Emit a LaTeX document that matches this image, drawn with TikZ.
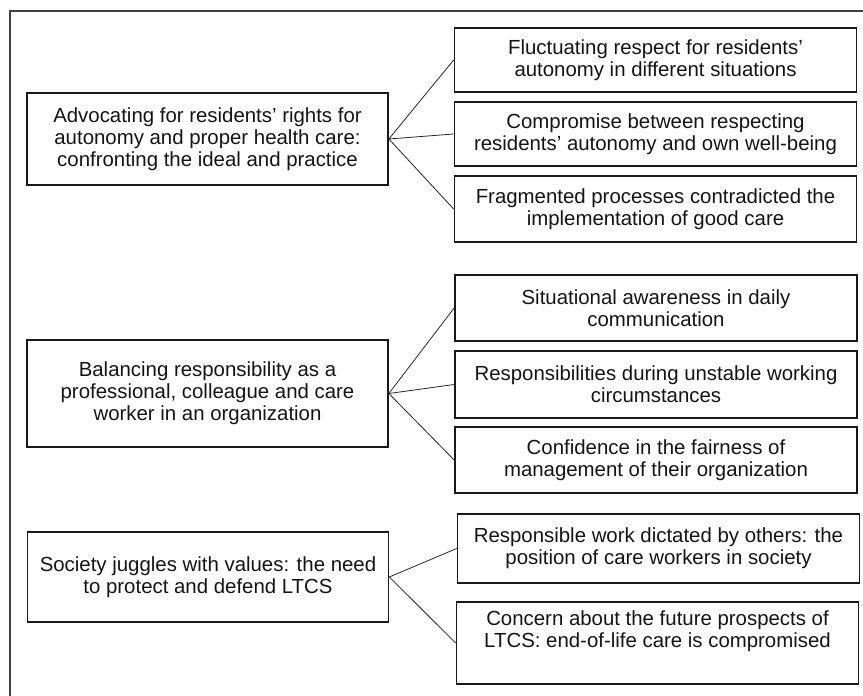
\documentclass[tikz,border=0pt]{standalone}
\usepackage{fontspec}
\setmainfont{Liberation Sans}
\begin{document}
\begin{tikzpicture}[x=1pt,y=-1pt,
  box/.style={draw=black!90,line width=1.7pt,rectangle,inner sep=0pt,
    align=center,text=black!92,font=\fontsize{20.4}{22}\selectfont},
  theme/.style={box,minimum width=361pt},
  subtheme/.style={box,minimum width=402pt},
  link/.style={draw=black!85,line width=0.8pt}]
\useasboundingbox (0,0) rectangle (863,696);
% frame (only top and left edges fall inside the page)
\draw[black!75,line width=2pt] (10,697) -- (10,11) -- (864,11);

% main themes
\node[theme,minimum height=92pt]  (t1) at (207.5,139)
  {Advocating for residents’ rights for\\autonomy and proper health care:\\confronting the ideal and practice};
\node[theme,minimum height=107pt] (t2) at (207.5,393.5)
  {Balancing responsibility as a\\professional, colleague and care\\worker in an organization};
\node[theme,minimum height=90pt]  (t3) at (208,577)
  {Society juggles with values: the need\\to protect and defend LTCS};

% subthemes
\node[subtheme,minimum height=64pt] (s1) at (655.5,60)
  {Fluctuating respect for residents'\\autonomy in different situations};
\node[subtheme,minimum height=64pt] (s2) at (655.5,134)
  {Compromise between respecting\\residents’ autonomy and own well-being};
\node[subtheme,minimum height=66pt] (s3) at (655.5,209)
  {Fragmented processes contradicted the\\implementation of good care};
\node[subtheme,minimum height=66pt] (s4) at (656,308)
  {Situational awareness in daily\\communication};
\node[subtheme,minimum height=67pt] (s5) at (656,384.5)
  {Responsibilities during unstable working\\circumstances};
\node[subtheme,minimum height=66pt] (s6) at (656,460)
  {Confidence in the fairness of\\management of their organization};
\node[subtheme,minimum height=69pt] (s7) at (658.5,548.5)
  {Responsible work dictated by others: the\\position of care workers in society};
\node[subtheme,minimum height=82pt] (s8) at (657.5,643)
  {Concern about the future prospects of\\LTCS: end-of-life care is compromised\\\strut};

% connectors
\foreach \s in {s1,s2,s3} \draw[link] (t1.east) -- (\s.west);
\foreach \s in {s4,s5,s6} \draw[link] (t2.east) -- (\s.west);
\foreach \s in {s7,s8} \draw[link] (t3.east) -- (\s.west);
\end{tikzpicture}
\end{document}
